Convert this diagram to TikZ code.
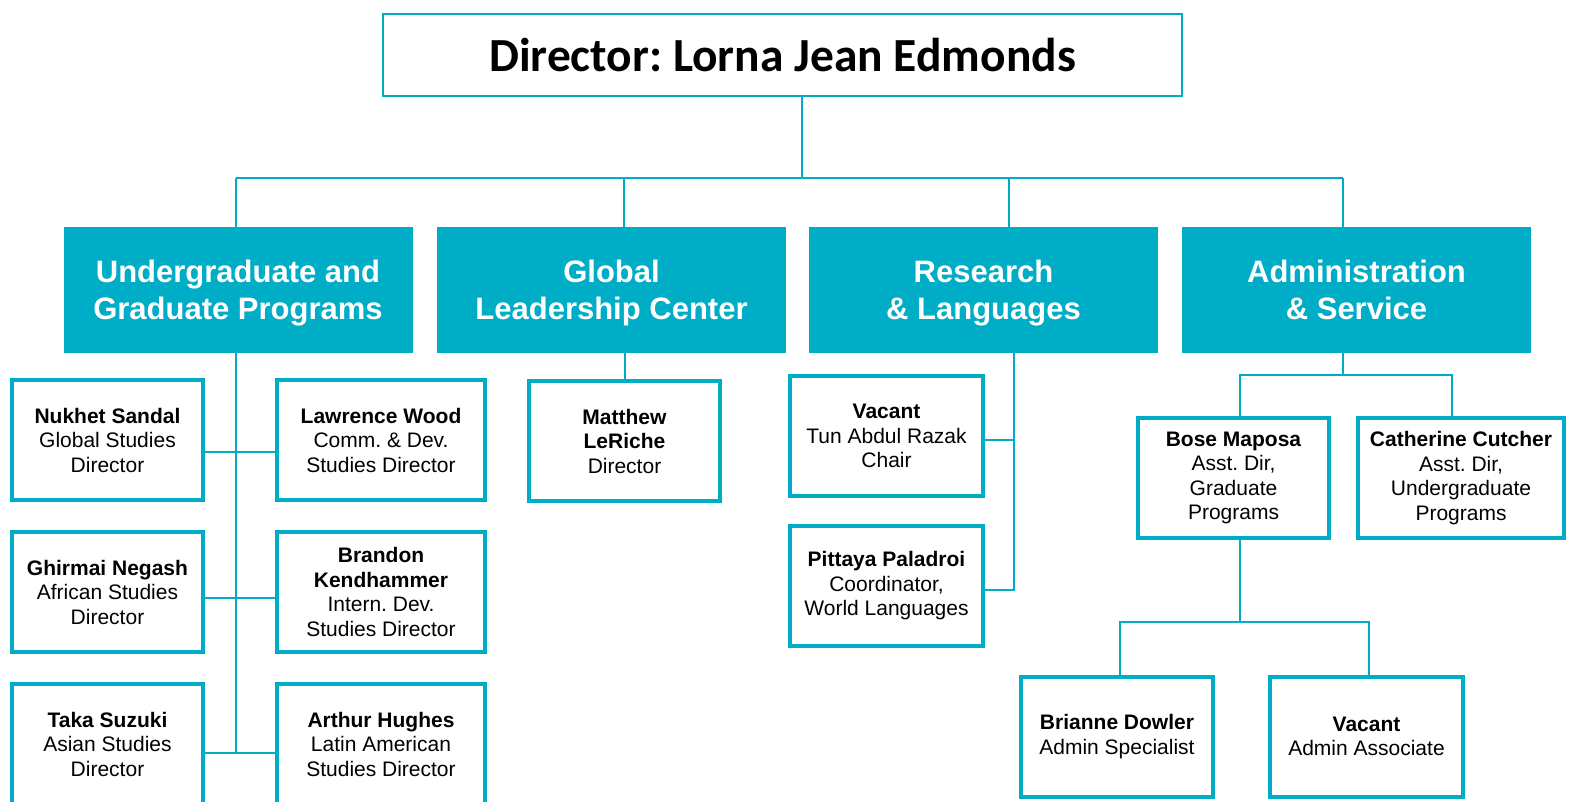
\documentclass[tikz,border=0pt]{standalone}
\usepackage{fontspec}
\setmainfont{Liberation Sans}
\newfontfamily\titelfont{Carlito}
\frenchspacing
\usetikzlibrary{positioning}
\definecolor{tuerkis}{HTML}{00ADC6}
\tikzset{
  leitung/.style={draw=tuerkis,line width=2.5pt,inner sep=0pt,
    minimum width=799,minimum height=82,
    font=\titelfont\bfseries\fontsize{47.5}{50}\selectfont},
  bereich/.style={fill=tuerkis,text=white,align=center,inner sep=0pt,
    minimum width=349,minimum height=126,text depth=0pt,
    font=\bfseries\fontsize{31}{37}\selectfont},
  person/.style={draw=tuerkis,line width=4pt,align=center,inner sep=0pt,
    minimum width=#1,minimum height=120,
    font=\fontsize{21}{24.5}\selectfont},
  person/.default=191,% voreingestellte Breite
  linie/.style={draw=tuerkis,line width=2pt}
}
\begin{document}
\begin{tikzpicture}[x=1pt,y=-1pt,
  % Abstand zwischen den Kaesten
  node distance=28pt and 70pt,
]
\useasboundingbox[fill=white] (0,0) rectangle (1571,802);
% Leitung
\node[leitung] (dir) at (782.5,55) {Director: Lorna Jean Edmonds};
% Bereiche
\node[bereich] (ugp) at (238,290) {Undergraduate and\\Graduate Programs};
\node[bereich] (glc) at (611.5,290) {Global\\Leadership Center};
\node[bereich] (rl) at (983.5,290) {Research\\\& Languages};
\node[bereich] (as) at (1356.5,290) {Administration\\\& Service};
% Studiengaenge
\node[person] (nukhet) at (107.5,440) {\textbf{Nukhet Sandal}\\Global Studies\\Director};
\node[person=208,right=of nukhet] (lawrence) {\textbf{Lawrence Wood}\\Comm. \& Dev.\\Studies Director};
\node[person,below=of nukhet] (ghirmai) {\textbf{Ghirmai Negash}\\African Studies\\Director};
\node[person=208,below=of lawrence] (brandon) {\textbf{Brandon}\\\textbf{Kendhammer}\\Intern. Dev.\\Studies Director};
\node[person,below=of ghirmai] (taka) {\textbf{Taka Suzuki}\\Asian Studies\\Director};
\node[person=208,below=of brandon] (arthur) {\textbf{Arthur Hughes}\\Latin American\\Studies Director};
% Leadership Center
\node[person] (matthew) at (624.5,441) {\textbf{Matthew}\\\textbf{LeRiche}\\Director};
% Forschung und Sprachen
\node[person=193] (vakanz) at (886.5,436) {\textbf{Vacant}\\Tun Abdul Razak\\Chair};
\node[person=193,below=26pt of vakanz] (pittaya) {\textbf{Pittaya Paladroi}\\Coordinator,\\World Languages};
% Verwaltung
\node[person] (bose) at (1233.5,478) {\textbf{Bose Maposa}\\Asst. Dir,\\Graduate\\Programs};
\node[person=206,right=25pt of bose] (catherine) {\textbf{Catherine Cutcher}\\Asst. Dir,\\Undergraduate\\Programs};
\node[person=192] (brianne) at (1117,736.5) {\textbf{Brianne Dowler}\\Admin Specialist};
\node[person=193,right=53pt of brianne] (vakanzb) {\textbf{Vacant}\\Admin Associate};
% Verbindungen Leitung -- Bereiche
\coordinate (bus) at (802,178);
\draw[linie] (dir.south -| bus) -- (bus);
\draw[linie] ([xshift=-2]ugp.north |- bus) -- ([xshift=-13.5]as.north |- bus);
\foreach \n/\dx in {ugp/-2,glc/12.5,rl/25.5,as/-13.5}
  \draw[linie] ([xshift=\dx]\n.north) -- ([xshift=\dx]\n.north |- bus);
% Studiengaenge
\foreach \l/\r/\dy in {nukhet/lawrence/-12,ghirmai/brandon/-6,taka/arthur/-9}
  \draw[linie] ([yshift=\dy]\l.east) -- ([yshift=\dy]\r.west);
\coordinate (ugpend) at ([yshift=-9]taka.east);
\draw[linie] ([xshift=-2]ugp.south) -- ([xshift=-2]ugp.south |- ugpend);
% Leadership Center
\draw[linie] (matthew.north |- glc.south) -- (matthew.north);
% Forschung und Sprachen
\coordinate (rlspine) at ([xshift=30.5]rl.south);
\draw[linie] (rlspine) |- ([yshift=-3.5]pittaya.east);
\draw[linie] ([yshift=-4]vakanz.east) -- ([yshift=-4]vakanz.east -| rlspine);
% Verwaltung
\coordinate (asbus) at (1343,375);
\draw[linie] (as.south -| asbus) -- (asbus);
\draw[linie] ([xshift=6.5]bose.north) |- (asbus) -| ([xshift=-9]catherine.north);
\coordinate (bosebus) at (1240,622);
\draw[linie] ([xshift=6.5]bose.south) -- (bosebus);
\draw[linie] ([xshift=3]brianne.north) |- (bosebus) -| ([xshift=2.5]vakanzb.north);
\end{tikzpicture}
\end{document}
